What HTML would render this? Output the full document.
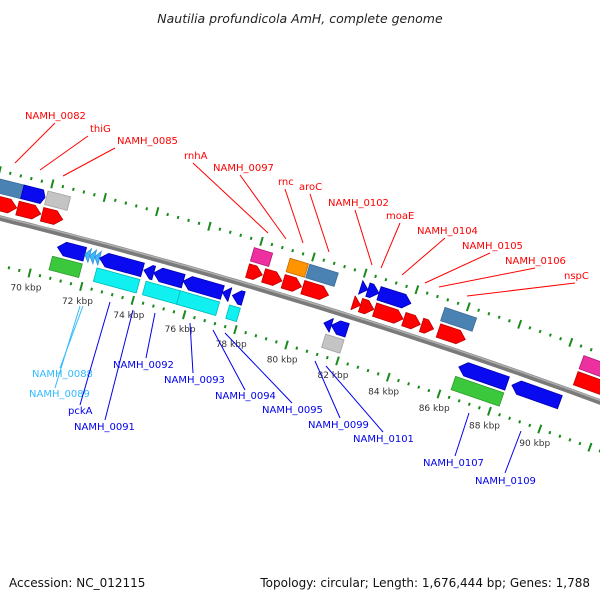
<!DOCTYPE html>
<html><head><meta charset="utf-8">
<style>
html,body{margin:0;padding:0;background:#fff;}
svg{display:block;}
text{font-family:"DejaVu Sans","Liberation Sans",sans-serif;}
</style></head>
<body>
<svg id="map" width="600" height="600" viewBox="0 0 600 600">
<rect width="600" height="600" fill="#fff"/>
<text x="300" y="23" text-anchor="middle" font-size="12.5" font-style="italic" fill="#222">Nautilia profundicola AmH, complete genome</text>
<text x="9" y="587" font-size="12" fill="#111">Accession: NC_012115</text>
<text x="590" y="587" text-anchor="end" font-size="12" fill="#111">Topology: circular; Length: 1,676,444 bp; Genes: 1,788</text>
<g id="rulers"></g>
<g id="backbone"></g>
<g id="features"></g>
<g id="labels"></g>
</svg>
<script>
// ---- data ----
const featStart = [67.3,69.0,69.91,77.81,79.19,79.95,82.0,82.28,82.71,85.19,90.62,
  67.3,68.97,69.91,77.81,78.43,79.19,79.95,81.9,82.19,82.74,83.88,84.57,85.23,90.62,
  70.77,71.82,72.01,72.20,72.39,74.10,74.48,75.62,77.14,77.53,81.09,81.38,86.38,88.47,
  70.67,72.39,74.29,75.62,77.53,81.28,86.38];
const featEnd = [69.0,69.86,70.77,78.52,79.90,81.05,82.28,82.71,83.95,86.42,92.2,
  68.94,69.86,70.70,78.38,79.14,79.90,80.95,82.19,82.71,83.85,84.52,85.04,86.28,92.2,
  71.82,72.01,72.20,72.39,74.05,74.48,75.62,77.14,77.43,77.95,81.38,82.0,88.28,90.37,
  71.82,74.05,75.62,77.14,77.95,82.0,88.28];
const featTrack = [2,2,2,2,2,2,2,2,2,2,2,
  1,1,1,1,1,1,1,1,1,1,1,1,1,1,
  -1,-1,-1,-1,-1,-1,-1,-1,-1,-1,-1,-1,-1,-1,
  -2,-2,-2,-2,-2,-2,-2];
const featType = ['steel','blueBox','gray','pink','orange','steel','blueFwd','blueFwd','blueFwd','steel','pink',
  'cds','cds','cds','cds','cds','cds','cds','cds','cds','cds','cds','cds','cds','cds',
  'rcds','trna','trna','trna','rcds','rcds','rcds','rcds','rcds','rcds','rcds','rcds','rcds','rcds',
  'green','cyan','cyan','cyan','cyan','gray','green'];
const tickKbp = [70,72,74,76,78,80,82,84,86,88,90];
const tickLabels = ['70 kbp','72 kbp','74 kbp','76 kbp','78 kbp','80 kbp','82 kbp','84 kbp','86 kbp','88 kbp','90 kbp'];
const geneLabels = ['NAMH_0082','thiG','NAMH_0085','rnhA','NAMH_0097','rnc','aroC','NAMH_0102','moaE','NAMH_0104','NAMH_0105','NAMH_0106','nspC',
  'NAMH_0088','NAMH_0089','pckA','NAMH_0091','NAMH_0092','NAMH_0093','NAMH_0094','NAMH_0095','NAMH_0099','NAMH_0101','NAMH_0107','NAMH_0109'];

// ---- layout / style ----
const R = 5700, BX = 300, BY = 301, ANG = 17*Math.PI/180;
const nx = Math.sin(ANG), ny = -Math.cos(ANG);
const CX = BX - R*nx, CY = BY - R*ny;
const PHI0 = Math.atan2(ny, nx);
const PXK = 26.9;
function P(k, d){ const phi = PHI0 + (k-80)*PXK/R; const r = R + d; return [CX + r*Math.cos(phi), CY + r*Math.sin(phi)]; }
const trackD = {'2':31,'1':14,'-1':-14,'-2':-31};
const colors = {steel:'#4a82b4',blueBox:'#0a0af0',gray:'#c4c4c4',pink:'#ee2fa0',orange:'#ff9400',blueFwd:'#0a0af0',
  cds:'#ff0000',rcds:'#0a0af0',trna:'#40b8ff',green:'#3cc83c',cyan:'#10f0f0'};
const shades = {steel:'#3a6a94',blueBox:'#0000b0',gray:'#a0a0a0',pink:'#b01a78',orange:'#c06a00',blueFwd:'#0000b0',
  cds:'#c00000',rcds:'#0000b0',trna:'#2a90d0',green:'#2a9a2a',cyan:'#00b8b8'};
const NS = 'http://www.w3.org/2000/svg';
function mk(tag, attrs, parent){ const e = document.createElementNS(NS, tag); for (const k in attrs) e.setAttribute(k, attrs[k]); parent.appendChild(e); return e; }
const pt = p => p[0].toFixed(1)+','+p[1].toFixed(1);

// rulers
const rul = document.getElementById('rulers');
[46,-46].forEach(function(d){
  for (let i = 168; i <= 232; i++){
    const k = i*0.4;
    const major = (i % 5 === 0);
    const len = major ? 4.5 : 1.5;
    const a = P(k, d-len), b = P(k, d+len);
    const t = mk('line', {x1:a[0],y1:a[1],x2:b[0],y2:b[1],stroke:'#1a8a1a','stroke-width':2}, rul);
    
    
  }
});
tickKbp.forEach(function(k, i){
  const p = P(k, -61);
  const t = mk('text', {x:p[0], y:p[1]+3, 'text-anchor':'middle','font-size':'9', fill:'#333'}, rul);
  t.textContent = tickLabels[i];
  
  
});

// backbone
const bb = document.getElementById('backbone');
let dpath = '';
for (let k = 66; k <= 94; k += 0.5){ const p = P(k, 0); dpath += (dpath ? 'L' : 'M') + pt(p); }
const bl = mk('path', {d:dpath, stroke:'#7a7a7a','stroke-width':5.5, fill:'none'}, bb);


let dpath2 = '';
for (let k = 66; k <= 94; k += 0.5){ const p = P(k, 1.5); dpath2 += (dpath2 ? 'L' : 'M') + pt(p); }
const bl2 = mk('path', {d:dpath2, stroke:'#b0b0b0','stroke-width':1.5, fill:'none'}, bb);



// features
const fg = document.getElementById('features');
const H = 7;
for (let i = 0; i < featStart.length; i++){
  const s = featStart[i], e = featEnd[i], d = trackD[featTrack[i]], ty = featType[i];
  const head = Math.min(0.28, e - s);
  let pts;
  if (ty === 'cds' || ty === 'blueFwd' || ty === 'blueBox'){
    const hd = ty === 'blueBox' ? Math.min(0.12, e-s) : head;
    pts = [P(s,d+H),P(e-hd,d+H),P(e,d),P(e-hd,d-H),P(s,d-H)];
  } else if (ty === 'rcds' || ty === 'trna'){
    pts = [P(e,d+H),P(s+head,d+H),P(s,d),P(s+head,d-H),P(e,d-H)];
  } else {
    pts = [P(s,d+H),P(e,d+H),P(e,d-H),P(s,d-H)];
  }
  const poly = mk('polygon', {points:pts.map(pt).join(' '), fill:colors[ty], stroke:shades[ty], 'stroke-width':0.8}, fg);
  
  
}

// gene labels (annotation layout)
const labelPos = [[25,119],[90,132],[117,144],[184,159],[213,171],[278,185],[299,190],[328,206],[386,219],[417,234],[462,249],[505,264],[564,279],
  [32,377],[29,397],[68,414],[74,430],[113,368],[164,383],[215,399],[262,413],[308,428],[353,442],[423,466],[475,484]];
const lineEnds = [[55,123,15,163],[88,136,40,170],[115,148,63,176],[193,163,268,233],[240,175,286,239],[285,189,303,243],[310,194,329,252],[355,210,372,265],[400,223,381,268],[445,238,402,275],[490,253,425,283],[535,268,439,287],[575,283,467,296],
  [83,306,60,368],[80,306,55,388],[110,302,80,405],[133,310,105,420],[155,313,146,358],[190,323,193,373],[213,330,245,390],[225,333,292,403],[315,361,340,418],[326,366,383,432],[469,413,455,456],[521,431,505,473]];
const lg = document.getElementById('labels');
for (let i = 0; i < geneLabels.length; i++){
  const upper = i < 13, cyanL = (i === 13 || i === 14);
  const col = upper ? '#ff0000' : (cyanL ? '#33bbff' : '#0000ee');
  const L = lineEnds[i];
  const ln = mk('line', {x1:L[0],y1:L[1],x2:L[2],y2:L[3],stroke:col,'stroke-width':1}, lg);
  
  
  const t = mk('text', {x:labelPos[i][0], y:labelPos[i][1], 'font-size':'10', fill:col}, lg);
  t.textContent = geneLabels[i];
  
  
}
</script>
</body></html>
